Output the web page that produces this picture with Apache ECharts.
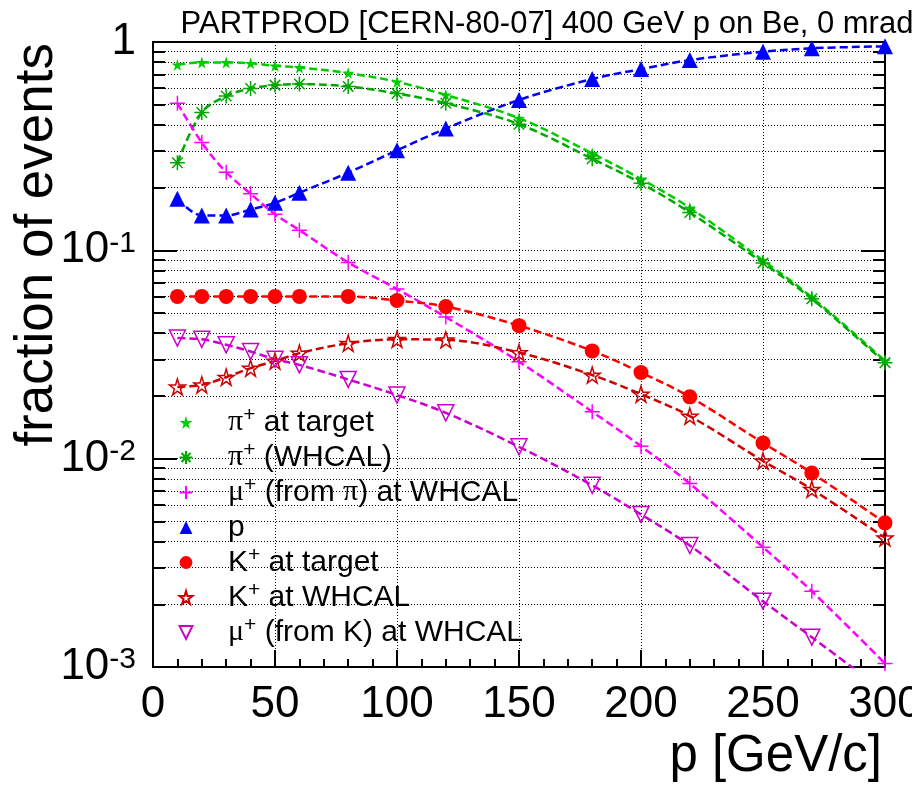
<!DOCTYPE html>
<html>
<head>
<meta charset="utf-8">
<script src="https://cdn.jsdelivr.net/npm/echarts@6/dist/echarts.min.js"></script>
<style>
html,body{margin:0;padding:0;background:#fff;}
#chart{width:912px;height:787px;}
</style>
</head>
<body>
<div id="chart"></div>
<script>
// ---- data ----
const momenta = [10,20,30,40,50,60,80,100,120,150,180,200,220,250,270,300];
const piTarget = [0.777,0.798,0.798,0.790,0.769,0.755,0.709,0.644,0.557,0.431,0.292,0.220,0.160,0.0895,0.0595,0.0295];
const piWhcal  = [0.263,0.459,0.551,0.598,0.621,0.628,0.612,0.566,0.508,0.403,0.275,0.210,0.152,0.0870,0.0585,0.0289];
const muFromPi = [0.508,0.329,0.237,0.187,0.149,0.125,0.0875,0.0652,0.0478,0.0292,0.0168,0.01148,0.00759,0.00376,0.00231,0.00104];
const proton   = [0.177,0.147,0.147,0.157,0.169,0.189,0.236,0.302,0.384,0.527,0.664,0.741,0.819,0.898,0.933,0.953];
const kTarget  = [0.0601,0.0601,0.0601,0.0601,0.0601,0.0601,0.0601,0.0574,0.0537,0.0435,0.0329,0.0259,0.0198,0.0119,0.00854,0.00492];
const kWhcal   = [0.0221,0.0226,0.0246,0.0272,0.0294,0.0321,0.0358,0.0374,0.0372,0.0323,0.0252,0.0204,0.0160,0.00975,0.00713,0.00417];
const muFromK  = [0.0379,0.0374,0.0352,0.0327,0.0300,0.0282,0.0240,0.0202,0.0166,0.0114,0.00745,0.0054,0.00383,0.00207,0.00139,0.00076];

const seriesNames = ['π+ at target','π+ (WHCAL)','μ+ (from π) at WHCAL','p','K+ at target','K+ at WHCAL','μ+ (from K) at WHCAL'];
const yMajorTicks = [0.001,0.01,0.1,1];
const yMinorTicks = [0.002,0.003,0.004,0.005,0.006,0.007,0.008,0.009,
                     0.02,0.03,0.04,0.05,0.06,0.07,0.08,0.09,
                     0.2,0.3,0.4,0.5,0.6,0.7,0.8,0.9];
const titleText = 'PARTPROD [CERN-80-07] 400 GeV p on Be, 0 mrad';
const xTitle = 'p [GeV/c]';
const yTitle = 'fraction of events';

const FONT = 'Liberation Sans';
const STAR = 'path://M50,0 L61,35 L98,35 L68,57 L79,91 L50,70 L21,91 L32,57 L2,35 L39,35 Z';
const ASTER = 'path://M10,0 L10,20 M0,10 L20,10 M3,3 L17,17 M3,17 L17,3';
const PLUS = 'path://M10,0 L10,20 M0,10 L20,10';

const legendRich = {
  'π+ at target': '{g|π}{s|+}{t| at target}',
  'π+ (WHCAL)': '{g|π}{s|+}{t| (WHCAL)}',
  'μ+ (from π) at WHCAL': '{g|μ}{s|+}{t| (from }{g|π}{t|) at WHCAL}',
  'p': '{t|p}',
  'K+ at target': '{t|K}{s|+}{t| at target}',
  'K+ at WHCAL': '{t|K}{s|+}{t| at WHCAL}',
  'μ+ (from K) at WHCAL': '{g|μ}{s|+}{t| (from K) at WHCAL}'
};

function pairs(arr){ return momenta.map((x,i)=>[x, arr[i]]); }

function mkSeries(name, data, opts){
  return {
    name: name,
    type: 'line',
    data: pairs(data),
    smooth: 0.35,
    clip: true,
    lineStyle: {type: [8,4], width: 2.5, color: opts.color},
    itemStyle: {color: opts.fill, borderColor: opts.color, borderWidth: opts.bw || 0},
    symbol: opts.symbol,
    symbolSize: opts.size,
    symbolRotate: opts.rotate || 0,
    z: 3
  };
}

const series = [
  mkSeries(seriesNames[0], piTarget, {color:'#00cc00', fill:'#00cc00', symbol:STAR, size:12}),
  mkSeries(seriesNames[1], piWhcal, {color:'#00a800', fill:'none', bw:1.5, symbol:ASTER, size:15}),
  mkSeries(seriesNames[2], muFromPi, {color:'#ff00ff', fill:'none', bw:1.5, symbol:PLUS, size:15}),
  mkSeries(seriesNames[3], proton, {color:'#0000ff', fill:'#0000ff', symbol:'triangle', size:16}),
  mkSeries(seriesNames[4], kTarget, {color:'#ff0000', fill:'#ff0000', symbol:'circle', size:15}),
  mkSeries(seriesNames[5], kWhcal, {color:'#cc0000', fill:'none', bw:1.5, symbol:STAR, size:16}),
  mkSeries(seriesNames[6], muFromK, {color:'#cc00cc', fill:'none', bw:1.5, symbol:'triangle', rotate:180, size:16})
];

const dotted = {show:true, lineStyle:{color:'#000', type:[1,2], width:1}};

function yAxisDef(pos, ticks, len, labels, grid){
  return {
    type:'log', logBase:10, min:0.001, max:1, position:pos,
    axisLine:{show:true, lineStyle:{color:'#000', width:2}},
    axisTick:{show:true, inside:true, length:len, customValues:ticks, lineStyle:{color:'#000', width:2}},
    minorTick:{show:false},
    axisLabel: labels ? {
      show:true, margin:17, customValues:ticks,
      formatter: function(v){
        const e = Math.round(Math.log10(v));
        return e === 0 ? '{b|1}' : '{b|10}{e|' + e + '}';
      },
      rich:{
        b:{fontSize:44, fontFamily:FONT, color:'#000'},
        e:{fontSize:30, fontFamily:FONT, color:'#000', verticalAlign:'top'}
      }
    } : {show:false},
    splitLine: grid ? dotted : {show:false}
  };
}

const option = {
  animation:false,
  backgroundColor:'#fff',
  title:{
    text:titleText, left:542, top:4, textAlign:'center',
    textStyle:{fontSize:31, fontWeight:'normal', fontFamily:FONT, color:'#000'}
  },
  grid:{left:153, right:27, top:42, bottom:120, show:true, borderColor:'#000', borderWidth:2,
        containLabel:false, outerBoundsMode:'none'},
  xAxis:{
    type:'value', min:0, max:300, interval:50,
    axisLine:{show:true, onZero:false, lineStyle:{color:'#000', width:2}},
    axisTick:{inside:true, length:17, lineStyle:{color:'#000', width:2}},
    minorTick:{show:true, splitNumber:5, length:8, lineStyle:{color:'#000', width:2}},
    minorSplitLine:{show:false},
    axisLabel:{fontSize:44, fontFamily:FONT, color:'#000', margin:16, showMaxLabel:true, hideOverlap:false},
    splitLine: dotted
  },
  yAxis:[
    yAxisDef('left', yMajorTicks, 24, true, true),
    yAxisDef('left', yMinorTicks, 12, false, true),
    yAxisDef('right', yMajorTicks, 24, false, false),
    yAxisDef('right', yMinorTicks, 12, false, false)
  ],
  legend:{
    orient:'vertical', left:148, top:405, padding:0,
    itemWidth:74, itemHeight:16, itemGap:0,
    selectedMode:false,
    lineStyle:{opacity:0},
    data: seriesNames,
    formatter: function(name){ return legendRich[name]; },
    textStyle:{
      color:'#000', fontSize:30, fontFamily:FONT, lineHeight:35,
      rich:{
        t:{fontSize:30, fontFamily:FONT, color:'#000', lineHeight:35},
        g:{fontSize:30, fontFamily:'Liberation Serif', color:'#000', lineHeight:35},
        s:{fontSize:21, fontFamily:FONT, color:'#000', lineHeight:20, verticalAlign:'top'}
      }
    }
  },
  graphic:[
    {type:'text', x:37, y:43, rotation:Math.PI/2,
     style:{text:yTitle, font:'53px "Liberation Sans"', fill:'#000', textAlign:'right', textVerticalAlign:'middle'}},
    {type:'text', x:882, y:757,
     style:{text:xTitle, font:'51px "Liberation Sans"', fill:'#000', textAlign:'right', textVerticalAlign:'middle'}}
  ],
  series: series
};

const chart = echarts.init(document.getElementById('chart'), null, {renderer:'canvas'});
chart.setOption(option);
</script>
</body>
</html>
